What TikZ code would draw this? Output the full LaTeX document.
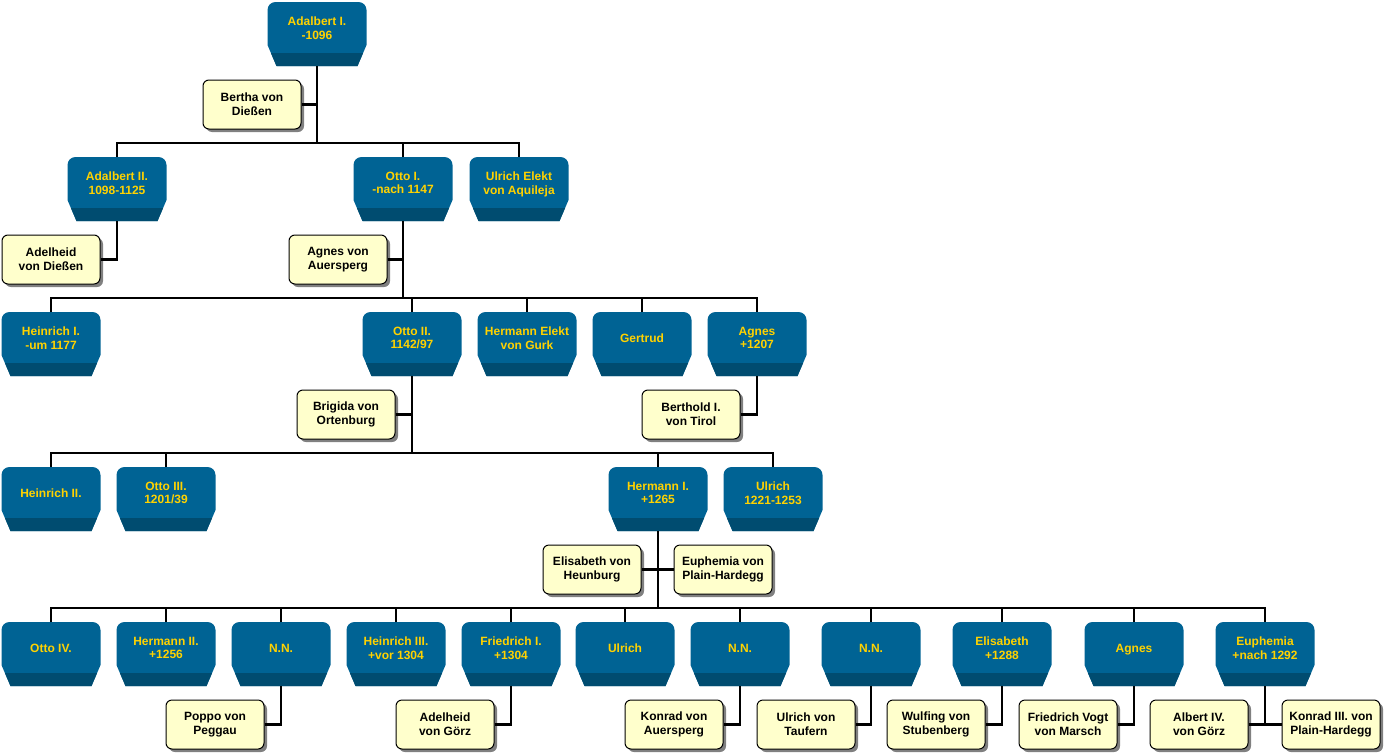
\documentclass[tikz,border=0pt]{standalone}
\usepackage{fontspec}
\setmainfont{Liberation Sans}
\usetikzlibrary{shadows}
\definecolor{bface}{RGB}{0,99,148}
\definecolor{bband}{RGB}{0,76,112}
\definecolor{btxt}{RGB}{255,210,0}
\definecolor{yfill}{RGB}{255,255,204}
\definecolor{shgray}{RGB}{128,128,128}
\tikzset{
 bshape/.style={minimum width=99pt, minimum height=64pt, inner sep=0pt, outer sep=0pt,
  path picture={
   \fill[bface] ([yshift=-8pt]path picture bounding box.north west) arc[start angle=180,end angle=90,radius=8pt] -- ++(83pt,0pt) arc[start angle=90,end angle=0,radius=8pt] -- ++(0pt,-35pt) -- ++(-9pt,-21pt) -- ++(-81pt,0pt) -- ++(-9pt,21pt) -- cycle;
   \fill[bband] ([xshift=3.4pt,yshift=13pt]path picture bounding box.south west) -- ++(92.2pt,0pt) -- ++(-5.6pt,-13pt) -- ++(-81pt,0pt) -- cycle;
  }},
 btext/.style={text=btxt, font=\fontsize{12}{13.7}\selectfont\bfseries, align=center, inner sep=0pt, execute at begin node=\strut, execute at end node=\strut},
 ybox/.style={draw=black, line width=1pt, fill=yfill, rounded corners=6pt, minimum width=98pt, minimum height=49pt, inner sep=0pt, align=center, font=\fontsize{12}{14}\selectfont\bfseries, general shadow={fill=shgray, shadow xshift=3pt, shadow yshift=-3pt}},
 conn/.style={line width=2.8pt, draw=black},
}
\newcommand\bnode[4]{\node[bshape] (#1) at (#2,-#3-32) {}; \node[btext] (#1t) at ([yshift=4pt]#1.center) {#4};}
\newcommand\ynode[4]{\node[ybox] (#1) at (#2,-#3-24.5) {#4};}
\begin{document}
\begin{tikzpicture}[x=1pt,y=1pt]
\fill[white] (0,0) rectangle (1384,-755);
\useasboundingbox (0,0) rectangle (1384,-755);
% blue nodes
\bnode{a1}{317}{2}{Adalbert I.\\-1096}
\bnode{a2}{117}{157}{Adalbert II.\\1098-1125}
\bnode{o1}{403}{157}{Otto I.\\-nach 1147}
\bnode{ue}{519}{157}{Ulrich Elekt\\von Aquileja}
\bnode{h1}{51}{312}{Heinrich I.\\-um 1177}
\bnode{o2}{412}{312}{Otto II.\\1142/97}
\bnode{he}{527}{312}{Hermann Elekt\\von Gurk}
\bnode{ge}{642}{312}{Gertrud}
\bnode{ag}{757}{312}{Agnes\\+1207}
\bnode{h2}{51}{467}{Heinrich II.}
\bnode{o3}{166}{467}{Otto III.\\1201/39}
\bnode{hm1}{658}{467}{Hermann I.\\+1265}
\bnode{ul}{773}{467}{Ulrich\\1221-1253}
\bnode{o4}{51}{622}{Otto IV.}
\bnode{hm2}{166}{622}{Hermann II.\\+1256}
\bnode{nn1}{281}{622}{N.N.}
\bnode{h3}{396}{622}{Heinrich III.\\+vor 1304}
\bnode{f1}{511}{622}{Friedrich I.\\+1304}
\bnode{ul2}{625}{622}{Ulrich}
\bnode{nn2}{740}{622}{N.N.}
\bnode{nn3}{871}{622}{N.N.}
\bnode{el}{1002}{622}{Elisabeth\\+1288}
\bnode{ag2}{1134}{622}{Agnes}
\bnode{eu}{1265}{622}{Euphemia\\+nach 1292}
% yellow nodes
\ynode{y1}{252}{80}{Bertha von\\Dießen}
\ynode{y2}{51}{235}{Adelheid\\von Dießen}
\ynode{y3}{338}{235}{Agnes von\\Auersperg}
\ynode{y4}{346}{390}{Brigida von\\Ortenburg}
\ynode{y5}{691}{390}{Berthold I.\\von Tirol}
\ynode{y6}{592}{545}{Elisabeth von\\Heunburg}
\ynode{y7}{723}{545}{Euphemia von\\Plain-Hardegg}
\ynode{y8}{215}{700}{Poppo von\\Peggau}
\ynode{y9}{445}{700}{Adelheid\\von Görz}
\ynode{y10}{674}{700}{Konrad von\\Auersperg}
\ynode{y11}{806}{700}{Ulrich von\\Taufern}
\ynode{y12}{936}{700}{Wulfing von\\Stubenberg}
\ynode{y13}{1068}{700}{Friedrich Vogt\\von Marsch}
\ynode{y14}{1199}{700}{Albert IV.\\von Görz}
\ynode{y15}{1331}{700}{Konrad III. von\\Plain-Hardegg}
% bus joints
\coordinate (b1) at (317,-143);
\coordinate (b2) at (403,-298);
\coordinate (b3) at (412,-453);
\coordinate (b4) at (658,-608);
% connectors
\draw[conn] (a1.south) -- (b1);
\draw[conn] (y1.east) -- (y1.east -| b1);
\draw[conn] (a2.north) |- (b1) -| (ue.north);
\draw[conn] (o1.north) -- (o1.north |- b1);
\draw[conn] (a2.south) |- (y2.east);
\draw[conn] (o1.south) -- (b2);
\draw[conn] (y3.east) -- (y3.east -| b2);
\draw[conn] (h1.north) |- (b2) -| (ag.north);
\draw[conn] (o2.north) -- (o2.north |- b2);
\draw[conn] (he.north) -- (he.north |- b2);
\draw[conn] (ge.north) -- (ge.north |- b2);
\draw[conn] (ag.south) |- (y5.east);
\draw[conn] (o2.south) -- (b3);
\draw[conn] (y4.east) -- (y4.east -| b3);
\draw[conn] (h2.north) |- (b3) -| (ul.north);
\draw[conn] (o3.north) -- (o3.north |- b3);
\draw[conn] (hm1.north) -- (hm1.north |- b3);
\draw[conn] (hm1.south) -- (b4);
\draw[conn] (y6.east) -- (y7.west);
\draw[conn] (o4.north) |- (b4) -| (eu.north);
\draw[conn] (hm2.north) -- (hm2.north |- b4);
\draw[conn] (nn1.north) -- (nn1.north |- b4);
\draw[conn] (h3.north) -- (h3.north |- b4);
\draw[conn] (f1.north) -- (f1.north |- b4);
\draw[conn] (ul2.north) -- (ul2.north |- b4);
\draw[conn] (nn2.north) -- (nn2.north |- b4);
\draw[conn] (nn3.north) -- (nn3.north |- b4);
\draw[conn] (el.north) -- (el.north |- b4);
\draw[conn] (ag2.north) -- (ag2.north |- b4);
\draw[conn] (nn1.south) |- (y8.east);
\draw[conn] (f1.south) |- (y9.east);
\draw[conn] (nn2.south) |- (y10.east);
\draw[conn] (nn3.south) |- (y11.east);
\draw[conn] (el.south) |- (y12.east);
\draw[conn] (ag2.south) |- (y13.east);
\draw[conn] (eu.south) -- (eu.south |- y14.east);
\draw[conn] (y14.east) -- (y15.west);
\end{tikzpicture}
\end{document}
